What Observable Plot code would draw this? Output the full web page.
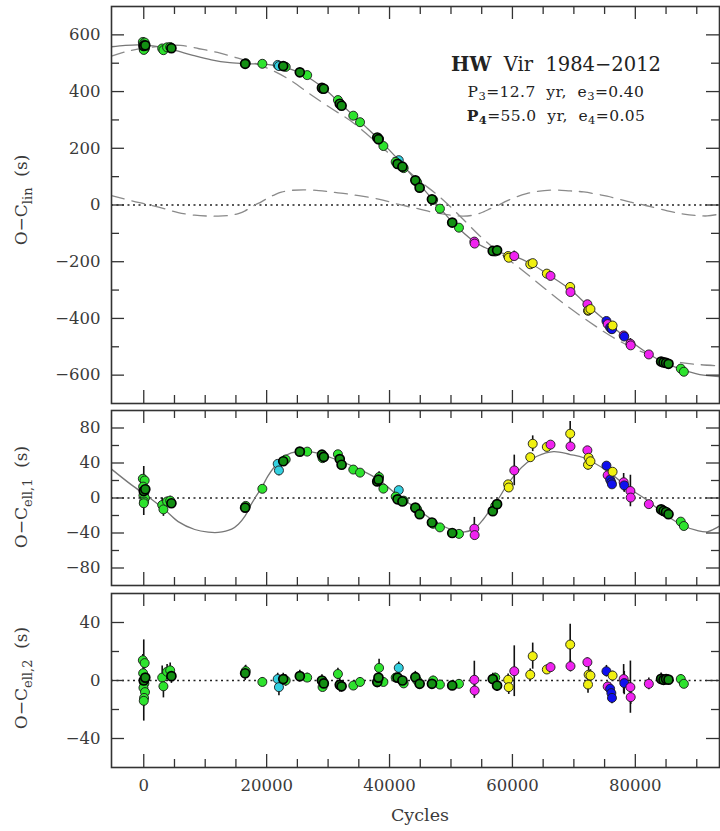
<!DOCTYPE html>
<html><head><meta charset="utf-8">
<script src="https://cdn.jsdelivr.net/npm/d3@7"></script>
<script src="https://cdn.jsdelivr.net/npm/@observablehq/plot@0.6"></script>
<style>
body{margin:0;background:#fff;}
#chart{position:relative;width:720px;height:831px;overflow:hidden;}
#chart svg{position:absolute;left:0;}
</style></head><body><div id="chart"></div>
<script>
// ---- tick values ----
const xMajor = [0, 20000, 40000, 60000, 80000];
const xMinor = [5000, 10000, 15000, 25000, 30000, 35000, 45000, 50000, 55000, 65000, 70000, 75000, 85000, 90000];
const y1Major = [-600, -400, -200, 0, 200, 400, 600];
const y1Minor = [-500, -300, -100, 100, 300, 500];
const y2Major = [-80, -40, 0, 40, 80];
const y2Minor = [-60, -20, 20, 60];
const y3Major = [-40, 0, 40];
const y3Minor = [-20, 20];

// ---- observations (cycle, group, O-C_lin, O-C_ell1, O-C_ell2, error) ----
const obsCycle = [0,-150,150,-100,250,100,-50,200,50,0,
  3000,3200,3800,4300,4500,16500,16600,19300,21800,22000,22700,23100,25400,26600,
  29000,29100,29300,31600,31900,32200,34100,35200,38000,38200,38300,39000,41500,41000,41300,42100,42300,
  44200,44500,44900,46900,47100,48200,50200,51300,53800,53850,56800,57200,57500,
  59300,59400,60300,62900,63300,65600,66200,69400,69450,72200,72300,72400,72700,
  75300,75500,75900,76100,76200,76300,78100,78200,79200,79250,82200,84200,84600,85000,85400,87400,87900];
const obsGroup = ["D","G","G","G","D","G","G","G","G","G",
  "G","G","G","G","D","D","G","G","C","C","D","G","D","G",
  "D","G","D","G","D","D","G","G","D","D","G","G","C","G","D","D","G",
  "D","G","D","D","G","G","D","G","M","M","D","G","D",
  "Y","Y","M","Y","Y","Y","M","Y","M","M","Y","Y","Y",
  "B","M","B","B","B","Y","M","B","M","M","M","D","D","D","D","G","G"];
const obsLin = [561,575,573,566,563,559,556,553,549,547,
  552,546,556,557,553,498,500,498,494,490,490,487,468,458,
  413,409,410,370,357,350,315,292,238,232,233,208,158,152,145,135,130,
  87,80,61,20,18,-13,-62,-80,-129,-136,-162,-164,-160,
  -180,-186,-180,-209,-205,-242,-250,-289,-307,-350,-373,-371,-367,
  -409,-420,-432,-436,-438,-425,-460,-464,-489,-495,-527,-552,-555,-557,-560,-577,-588];
const obsEll1 = [8,22,20,13,10,6,3,0,-4,-6,
  -8,-13,-4,-3,-6,-11,-9,10.5,39,31.5,42,44,53,53,
  49.5,45.5,47,50,44.5,38,32.5,29,19,21,24,10.7,9,1.6,-1.5,-4,-3,
  -11,-13,-18.5,-28,-29.5,-33.6,-40,-41,-35,-42.4,-15,-9,-7,
  15.6,12,31.5,46.6,62,58.4,61,73.5,59,54.5,38,46,42,
  37,26,21,18,15.6,30,18,14.4,8,0.5,-7,-13,-14.8,-16,-18.5,-27,-32];
const obsEll2 = [0,14,12,5,2,-2,-5,-8,-12,-14,
  2,-4,6,7,3,5,6.5,-1,1,-4.6,1,0,3,2,
  0,-4.5,-2,4.5,-3,-4,-3.5,-1,-1,2,8.7,-1,8.7,2,2,0,-2,
  2.3,0,-2.3,-2.3,0,-2.8,-3.4,-2.3,0.5,-6.9,1,2,-3.5,
  0.5,-4.6,6.4,4,16.8,7.6,9.2,24.8,9.9,12.6,-2.8,4,3.4,
  6.4,-4.1,-5.7,-8.7,-12,3.4,1,-1.8,-4.6,-11.5,-2.3,1.1,0.5,1,0.6,1,-2.3];
const obsErr = [28,4,4,4,5,4,5,4,5,4,
  8,8,5,5,5,5,4,3,4,6,4,4,4,3,
  4,3,3,4,5,4,3,3,4,4,6,3,4,3,3,3,3,
  4,3,3,3,3,3,3,3,12.8,4,4,3,4,
  4,5,17.5,4,9,3,3,14,4,3,6,5,4,
  4,3,4,4,4,3,10,8,18,5,4,4,3,3,3,3,3];

// ---- model curves ----
const fullCycle = [-5250,-3000,-1000,0,1500,3000,5000,8000,11000,14000,17000,20000,22500,25000,27500,29500,32000,34500,36500,38500,41500,44300,47000,50300,53700,55500,57000,58800,60400,63100,66000,69400,72300,75300,78200,82300,84800,87500,90500,93700];
const fullOC = [558,563,565,564,561,556,546,528,512,502,498,496,487,470,440,408,358,308,268,226,158,87,20,-62,-128,-150,-163,-172,-181,-208,-248,-298,-355,-410,-463,-527,-556,-580,-598,-605];
const p4Cycle = [-5250,-3000,0,3000,6000,9000,12000,15000,18000,21000,24000,27000,30000,33700,37500,41000,44500,48300,52100,55000,58000,61200,64900,68500,72300,76000,80000,84000,87500,90500,93700];
const p4OC = [525,540,553,560,563,551,538,520,500,474,438,392,348,296,228,160,92,26,-53,-115,-170,-223,-288,-350,-409,-462,-508,-540,-556,-563,-567];
const p3Cycle = [-5250,-2000,1000,3500,5600,8300,10500,12100,14300,15400,16500,17500,18100,19200,20200,21300,22400,24000,26200,28500,30500,32800,35000,38200,41500,44400,47600,50000,52000,53800,55300,56400,57800,59000,60700,62300,64000,66700,69400,71600,75400,79200,81400,85200,87900,90000,91700,93700];
const p3OC = [33,15,0,-14,-27,-36,-39,-39.3,-35.6,-30,-20.5,-7,0,12,25,36,45,51.6,53.4,51,46,40,33,21,2,-12,-28,-36,-39,-35,-24,-13,0,13.6,29,40,47.7,53,49.7,46,31,10,0,-20.5,-32,-37,-38.6,-32];

const groupFill = {G:"#2ee32e", D:"#138f13", C:"#33d0e0", M:"#f022f0", Y:"#f0f010", B:"#1010ee"};

// ---- build tables ----
const obs = obsCycle.map((c,i)=>({c, g:obsGroup[i], lin:obsLin[i], e1:obsEll1[i], e2:obsEll2[i], err:obsErr[i]}));
const full = fullCycle.map((c,i)=>({c, v:fullOC[i]}));
const p4 = p4Cycle.map((c,i)=>({c, v:p4OC[i]}));
const p3 = p3Cycle.map((c,i)=>({c, v:p3OC[i]}));

const xDomain = [-5250, 93700];
const FONT = "DejaVu Serif";
const fmt = d => d < 0 ? "\u2212" + Math.abs(d) : String(d);
const W = 720, ML = 111, MR = 1;
const innerW = W - ML - MR;
const MAJ = 13, MIN = 8;

function axes(yMajor, yMinor, innerH, xLabels){
  const tk = {stroke:"#333", strokeWidth:1.3};
  const marks = [
    Plot.tickY(yMajor, {...tk, y:d=>d, insetRight: innerW - MAJ}),
    Plot.tickY(yMinor, {...tk, y:d=>d, insetRight: innerW - MIN}),
    Plot.tickY(yMajor, {...tk, y:d=>d, insetLeft: innerW - MAJ}),
    Plot.tickY(yMinor, {...tk, y:d=>d, insetLeft: innerW - MIN}),
    Plot.tickX(xMajor, {...tk, x:d=>d, insetBottom: innerH - MAJ}),
    Plot.tickX(xMinor, {...tk, x:d=>d, insetBottom: innerH - MIN}),
    Plot.tickX(xMajor, {...tk, x:d=>d, insetTop: innerH - MAJ}),
    Plot.tickX(xMinor, {...tk, x:d=>d, insetTop: innerH - MIN}),
    Plot.axisY(yMajor, {anchor:"left", tickSize:0, tickPadding:11, tickFormat:fmt, label:null}),
    Plot.frame({stroke:"#333", strokeWidth:1.6})
  ];
  if (xLabels) marks.push(Plot.axisX(xMajor, {anchor:"bottom", tickSize:0, tickPadding:12, tickFormat:fmt, label:null}));
  return marks;
}
function dataMarks(key){
  const others = obs.filter(d=>d.g!=="D");
  const dark = obs.filter(d=>d.g==="D");
  return [
    Plot.ruleX(obs, {x:"c", y1:d=>d[key]-d.err, y2:d=>d[key]+d.err, stroke:"#111", strokeWidth:1.6}),
    Plot.dot(others, {x:"c", y:key, r:4.5, fill:d=>groupFill[d.g], stroke:"#1a1a1a", strokeWidth:0.9}),
    Plot.dot(dark, {x:"c", y:key, r:4.5, fill:d=>groupFill[d.g], stroke:"#000", strokeWidth:1.7})
  ];
}
const zeroLine = Plot.ruleY([0], {stroke:"#222", strokeWidth:1.4, strokeDasharray:"2,3.5"});
const common = {width:W, marginLeft:ML, marginRight:MR, x:{domain:xDomain, axis:null}, color:{type:"identity"},
  style:{fontFamily:FONT, fontSize:"16.5px", color:"#3a3a3a", background:"transparent", overflow:"visible"}};

const plot1 = Plot.plot({...common, height:406, marginTop:6, marginBottom:3, y:{domain:[-700,700], axis:null},
  marks:[
    zeroLine,
    Plot.line(p4, {x:"c", y:"v", stroke:"#8a8a8a", strokeWidth:1.3, strokeDasharray:"13,8", curve:"catmull-rom", clip:true}),
    Plot.line(p3, {x:"c", y:"v", stroke:"#8a8a8a", strokeWidth:1.3, strokeDasharray:"13,8", curve:"catmull-rom", clip:true}),
    Plot.line(full, {x:"c", y:"v", stroke:"#777", strokeWidth:1.3, curve:"catmull-rom", clip:true}),
    ...dataMarks("lin"),
    ...axes(y1Major, y1Minor, 406-6-3, false)
  ]});
const plot2 = Plot.plot({...common, height:182, marginTop:4, marginBottom:3, y:{domain:[-100,100], axis:null},
  marks:[
    zeroLine,
    Plot.line(p3, {x:"c", y:"v", stroke:"#777", strokeWidth:1.3, curve:"catmull-rom", clip:true}),
    ...dataMarks("e1"),
    ...axes(y2Major, y2Minor, 182-4-3, false)
  ]});
const plot3 = Plot.plot({...common, height:243, marginTop:5, marginBottom:64, y:{domain:[-60,60], axis:null},
  marks:[
    zeroLine,
    ...dataMarks("e2"),
    ...axes(y3Major, y3Minor, 243-5-64, true)
  ]});

const chart = document.getElementById("chart");
[[plot1,0],[plot2,406],[plot3,588]].forEach(([p,top])=>{p.style.top = top + "px"; chart.appendChild(p);});

// ---- y-axis titles with subscripts ----
function yTitle(svg, cx, cy, sub){
  const t = d3.select(svg).append("text")
    .attr("transform", `translate(${cx},${cy}) rotate(-90)`)
    .attr("text-anchor","middle").attr("fill","#3a3a3a")
    .attr("font-family", FONT).attr("font-size", 17).style("white-space","pre");
  t.append("tspan").text("O\u2212C");
  t.append("tspan").attr("dy", 5).attr("font-size", 13).text(sub);
  t.append("tspan").attr("dy", -5).text("  (s)");
}
yTitle(plot1, 27, 200, "lin");
yTitle(plot2, 27, 91, "ell,1");
yTitle(plot3, 27, 90, "ell,2");

// ---- x-axis title ----
d3.select(plot3).append("text").attr("x", 420).attr("y", 233).attr("text-anchor","middle")
  .attr("fill","#3a3a3a").attr("font-family",FONT).attr("font-size",17.5).text("Cycles");

// ---- annotation ----
const g = d3.select(plot1).append("g").attr("font-family",FONT).attr("fill","#222").attr("text-anchor","middle").style("white-space","pre");
const l1 = g.append("text").attr("x",556).attr("y",71).attr("font-size",19.5);
l1.append("tspan").attr("font-weight","bold").text("HW");
l1.append("tspan").text("  Vir  1984\u22122012");
const l2 = g.append("text").attr("x",556).attr("y",97).attr("font-size",15.5).attr("letter-spacing",0.4);
l2.append("tspan").text("P");
l2.append("tspan").attr("dy",3).attr("font-size",11.5).text("3");
l2.append("tspan").attr("dy",-3).text("=12.7  yr,  e");
l2.append("tspan").attr("dy",3).attr("font-size",11.5).text("3");
l2.append("tspan").attr("dy",-3).text("=0.40");
const l3 = g.append("text").attr("x",556).attr("y",121).attr("font-size",15.5).attr("letter-spacing",0.4);
l3.append("tspan").attr("font-weight","bold").text("P");
l3.append("tspan").attr("dy",3).attr("font-size",11.5).attr("font-weight","bold").text("4");
l3.append("tspan").attr("dy",-3).text("=55.0  yr,  e");
l3.append("tspan").attr("dy",3).attr("font-size",11.5).text("4");
l3.append("tspan").attr("dy",-3).text("=0.05");
</script></body></html>
